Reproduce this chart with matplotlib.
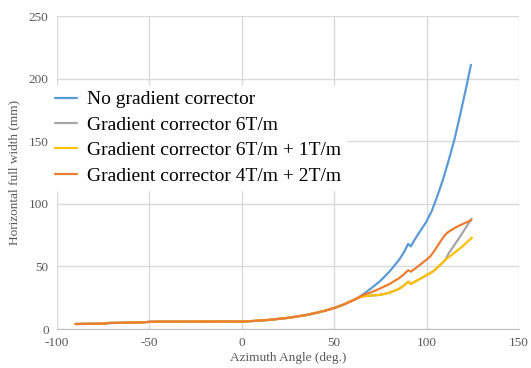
import numpy as np
import matplotlib
matplotlib.use('Agg')
import matplotlib.pyplot as plt

# Tramo comun a todas las series
x_common = [-90, -74, -72, -55, -50, -45, -30, 0, 5, 10, 15, 20, 25, 30, 35, 40, 45, 50, 55, 60, 63]
y_common = [4.0, 4.3, 4.8, 5.2, 5.7, 5.9, 5.9, 6.0, 6.3, 6.8, 7.3, 8.1, 8.9, 10.0, 11.2, 12.8, 14.6, 16.8, 19.5, 22.8, 25.0]

# Colas de cada serie
x_blue = [65, 70, 75, 80, 85, 88, 90, 91.5, 93, 96, 100, 103, 106, 109, 112, 115, 118, 121, 124]
y_blue = [27, 32.5, 38.5, 46, 55, 62, 68, 66, 70, 77, 86, 95, 107, 120, 135, 151, 170, 190, 211]

x_yellow = [65.5, 70, 75, 80, 85, 88, 90, 91.5, 94, 97, 100, 103.5, 106.5, 110, 113, 116, 119, 122, 124.5]
y_yellow = [26.0, 26.7, 27.3, 29, 32, 35, 37.8, 36, 38, 40.5, 43, 46, 50, 55, 58.5, 62, 65.5, 69.5, 73]

x_gray = [65.5, 70, 75, 80, 85, 88, 90, 91.5, 94, 97, 100, 103.5, 106.5, 110, 112, 115, 118, 121, 124.3]
y_gray = [26.0, 26.7, 27.3, 29, 32, 35, 37.8, 36, 38, 40.5, 43, 46, 50, 55, 60.5, 67, 73.5, 80.5, 88]

x_orange = [65, 70, 75, 80, 85, 88, 90, 91.5, 94, 97, 100, 102, 104, 106, 108, 110, 112, 115, 118, 121, 124.2]
y_orange = [26.8, 29.3, 32.5, 36, 40.5, 44, 47, 45.8, 48.5, 52, 55.5, 58, 62, 66.5, 71, 75.2, 77.8, 80.5, 82.8, 84.8, 87]

labels = ['No gradient corrector', 'Gradient corrector 6T/m',
          'Gradient corrector 6T/m + 1T/m', 'Gradient corrector 4T/m + 2T/m']
colores = ['#5B9BD5', '#A5A5A5', '#FFC000', '#ED7D31']

plt.rcParams['font.family'] = ['Liberation Serif', 'DejaVu Serif']
plt.rcParams['axes.unicode_minus'] = False

fig = plt.figure(figsize=(5.31, 3.68), dpi=100)
ax = fig.add_axes([57 / 531, 1 - 329 / 368, 462 / 531, 313 / 368])

series = [(x_blue, y_blue), (x_gray, y_gray), (x_yellow, y_yellow), (x_orange, y_orange)]
for (xs, ys), lab, c in zip(series, labels, colores):
    xx = np.concatenate([x_common, xs])
    yy = np.concatenate([y_common, ys])
    ax.plot(xx, yy, color=c, lw=1.6, label=lab, solid_capstyle='round')

ax.set_xlim(-100, 150)
ax.set_ylim(0, 250)
ax.set_xticks(np.arange(-100, 151, 50))
ax.set_yticks(np.arange(0, 251, 50))
ax.grid(True, color='#D9D9D9', lw=1.0)
ax.set_axisbelow(True)
for s in ['top', 'right', 'left']:
    ax.spines[s].set_visible(False)
ax.spines['bottom'].set_color('#BFBFBF')
ax.tick_params(length=0, labelsize=9.5, colors='#595959', pad=6)

ax.set_xlabel('Azimuth Angle (deg.)', fontsize=9.5, color='#595959', labelpad=2)
ax.set_ylabel('Horizontal full width (mm)', fontsize=9.5, color='#595959', labelpad=6)

leg = fig.legend(loc='upper left', bbox_to_anchor=(50 / 531, 1 - 86 / 368),
                 fontsize=14, frameon=True, facecolor='white', edgecolor='white',
                 framealpha=1, fancybox=False, borderpad=0.25, handlelength=1.15,
                 handletextpad=0.5, labelspacing=0.4, borderaxespad=0)
for line in leg.get_lines():
    line.set_linewidth(1.6)

fig.savefig('out.png', dpi=100)
